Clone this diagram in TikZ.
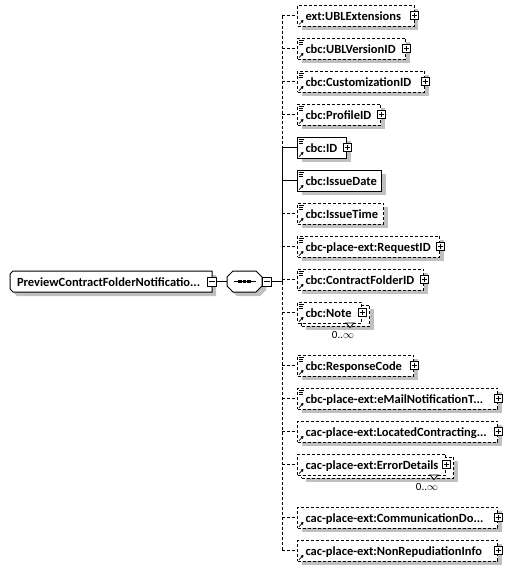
\documentclass[tikz,border=0pt]{standalone}
\usepackage{fontspec}
\setmainfont{Carlito}
\usetikzlibrary{shadows,arrows.meta}
\definecolor{shadowgray}{RGB}{192,192,192}
\tikzset{
  optbox/.style={draw, fill=white, rectangle, anchor=west, minimum height=21pt, inner sep=0pt, dash pattern=on 3pt off 2pt},
  reqbox/.style={draw, fill=white, rectangle, anchor=west, minimum height=21pt, inner sep=0pt},
  shd/.style={general shadow={fill=shadowgray, shadow xshift=4pt, shadow yshift=-4pt}},
  opt/.style={dash pattern=on 3pt off 2pt},
  lbl/.style={anchor=base west, inner sep=0pt, font=\bfseries\fontsize{12.5}{14}\selectfont},
  mult/.style={inner sep=0pt, font=\fontsize{11}{13}\selectfont},
  icon/.style={line width=0.7pt, solid},
  pbox/.style={draw, solid, fill=white, minimum size=8pt, inner sep=0pt, line width=0.8pt,
    path picture={\draw[line width=0.8pt] ([xshift=1.5pt]path picture bounding box.west) -- ([xshift=-1.5pt]path picture bounding box.east)
      ([yshift=-1.5pt]path picture bounding box.north) -- ([yshift=1.5pt]path picture bounding box.south);}},
  mbox/.style={draw, solid, fill=white, minimum size=9pt, inner sep=0pt, line width=0.8pt,
    path picture={\draw[line width=0.8pt] ([xshift=1.5pt]path picture bounding box.west) -- ([xshift=-1.5pt]path picture bounding box.east);}},
}
\newcommand\elbox[5]{\node[#4, minimum width={#3-297}] (#1) at (297,#2) {};\node[lbl] (#1-t) at (305,#2+5) {#5};}
\newcommand\expbox[1]{\node[pbox] (#1-p) at (#1.east) {};}
\newcommand\docmark[1]{\draw[icon] ([xshift=1.5pt,yshift=-2.5pt]#1.north west) -- ++(5.5,0)
  ([xshift=1.5pt,yshift=-4.5pt]#1.north west) -- ++(4.5,0)
  ([xshift=1.5pt,yshift=-6.5pt]#1.north west) -- ++(4.5,0);}
\newcommand\refmark[1]{\draw[icon,-{Triangle[length=2.5pt,width=3pt]}] ([xshift=2pt,yshift=2pt]#1.south west) -- ++(4.5,-4.5);}
\newcommand\multback[3]{\node[optbox, shd, minimum width={#3-297}] (#1-b) at (301,#2+3) {};}
\newcommand\multmark[3]{\draw[fill=white, line width=0.8pt] (#3-15,#2+10.5) -- (#3-7,#2+10.5) -- (#3-11,#2+15) -- cycle;
  \node[mult] (#1-n) at (#3-18,#2+22.5) {0..$\infty$};}
\begin{document}
\begin{tikzpicture}[x=1pt,y=-1pt,line width=1pt]
\useasboundingbox (0,0) rectangle (512,568);
% trunk coordinates
\coordinate (t1) at (282,15.5);
\coordinate (t2) at (282,48.5);
\coordinate (t3) at (282,81.5);
\coordinate (t4) at (282,114.5);
\coordinate (t5) at (282,147.5);
\coordinate (t6) at (282,180.5);
\coordinate (t7) at (282,213.5);
\coordinate (t8) at (282,246.5);
\coordinate (t9) at (282,279.5);
\coordinate (t10) at (282,312.5);
\coordinate (t11) at (282,365.5);
\coordinate (t12) at (282,398.5);
\coordinate (t13) at (282,431.5);
\coordinate (t14) at (282,464.5);
\coordinate (t15) at (282,517.5);
\coordinate (t16) at (282,550.5);
\coordinate (tR) at (282,281.5);
\draw[opt] (t1) -- (t5);
\draw (t5) -- (tR);
\draw[opt] (tR) -- (t16);

% root element
\fill[shadowgray] (17,275) -- (216,275) -- (216,296) -- (17,296) -- (14,293) -- (14,278) -- cycle;
\draw[fill=white] (13,271) -- (212,271) -- (212,292) -- (13,292) -- (10,289) -- (10,274) -- cycle;
\node[inner sep=0pt, minimum width=202pt, minimum height=21pt] (root) at (111,281.5) {};
\node[lbl] (root-t) at (16.5,286.5) {PreviewContractFolderNotificatio...};
\node[mbox] (root-m) at (212,281.5) {};

% sequence compositor
\fill[shadowgray] (237,275) -- (260,275) -- (266,281) -- (266,290) -- (260,296) -- (237,296) -- (231,290) -- (231,281) -- cycle;
\draw[fill=white] (233,271) -- (256,271) -- (262,277) -- (262,286) -- (256,292) -- (233,292) -- (227,286) -- (227,277) -- cycle;
\node[inner sep=0pt, minimum width=35pt, minimum height=21pt] (seq) at (244.5,281.5) {};
\draw (233.5,281.5) -- (255.5,281.5);
\fill (238.2,279.7) rectangle +(3.6,3.6);
\fill (242.7,279.7) rectangle +(3.6,3.6);
\fill (247.2,279.7) rectangle +(3.6,3.6);
\node[mbox] (seq-m) at (267,281.5) {};
\draw (root-m.east) -- (seq.west);
\draw (seq-m.east) -- (tR);

% children
\elbox{e1}{15.5}{413.5}{optbox,shd}{ext:UBLExtensions}
\refmark{e1}\expbox{e1}
\elbox{e2}{48.5}{405}{optbox,shd}{cbc:UBLVersionID}
\docmark{e2}\refmark{e2}\expbox{e2}
\elbox{e3}{81.5}{424}{optbox,shd}{cbc:CustomizationID}
\docmark{e3}\refmark{e3}\expbox{e3}
\elbox{e4}{114.5}{380}{optbox,shd}{cbc:ProfileID}
\docmark{e4}\refmark{e4}\expbox{e4}
\elbox{e5}{147.5}{346}{reqbox,shd}{cbc:ID}
\docmark{e5}\refmark{e5}\expbox{e5}
\elbox{e6}{180.5}{381}{reqbox,shd}{cbc:IssueDate}
\docmark{e6}\refmark{e6}
\elbox{e7}{213.5}{383}{optbox,shd}{cbc:IssueTime}
\docmark{e7}\refmark{e7}
\elbox{e8}{246.5}{439}{optbox,shd}{cbc-place-ext:RequestID}
\docmark{e8}\refmark{e8}\expbox{e8}
\elbox{e9}{279.5}{423}{optbox,shd}{cbc:ContractFolderID}
\docmark{e9}\refmark{e9}\expbox{e9}
\multback{e10}{312.5}{365}
\elbox{e10}{312.5}{361}{optbox}{cbc:Note}
\docmark{e10}\refmark{e10}\expbox{e10}
\multmark{e10}{312.5}{361}
\elbox{e11}{365.5}{413}{optbox,shd}{cbc:ResponseCode}
\docmark{e11}\refmark{e11}\expbox{e11}
\elbox{e12}{398.5}{497}{optbox,shd}{cbc-place-ext:eMailNotificationT...}
\docmark{e12}\refmark{e12}\expbox{e12}
\elbox{e13}{431.5}{497}{optbox,shd}{cac-place-ext:LocatedContracting...}
\refmark{e13}\expbox{e13}
\multback{e14}{464.5}{449}
\elbox{e14}{464.5}{445}{optbox}{cac-place-ext:ErrorDetails}
\refmark{e14}\expbox{e14}
\multmark{e14}{464.5}{445}
\elbox{e15}{517.5}{497}{optbox,shd}{cac-place-ext:CommunicationDo...}
\refmark{e15}\expbox{e15}
\elbox{e16}{550.5}{497}{optbox,shd}{cac-place-ext:NonRepudiationInfo}
\refmark{e16}\expbox{e16}

% branches
\draw[opt] (t1) -- (e1.west);
\draw[opt] (t2) -- (e2.west);
\draw[opt] (t3) -- (e3.west);
\draw[opt] (t4) -- (e4.west);
\draw (t5) -- (e5.west);
\draw (t6) -- (e6.west);
\draw[opt] (t7) -- (e7.west);
\draw[opt] (t8) -- (e8.west);
\draw[opt] (t9) -- (e9.west);
\draw[opt] (t10) -- (e10.west);
\draw[opt] (t11) -- (e11.west);
\draw[opt] (t12) -- (e12.west);
\draw[opt] (t13) -- (e13.west);
\draw[opt] (t14) -- (e14.west);
\draw[opt] (t15) -- (e15.west);
\draw[opt] (t16) -- (e16.west);
\end{tikzpicture}
\end{document}
